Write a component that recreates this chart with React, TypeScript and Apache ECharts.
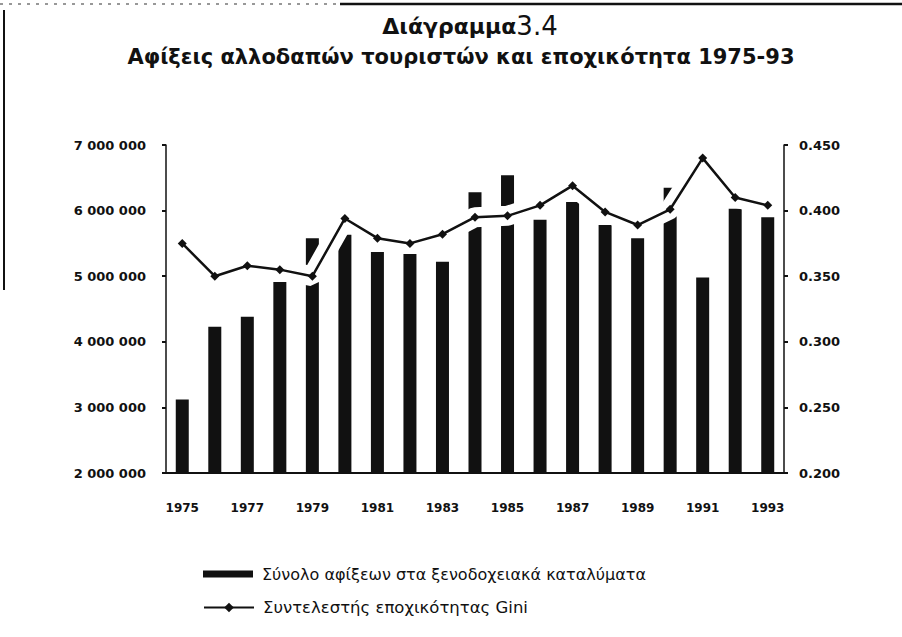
import React, { useEffect, useRef } from "react";
import * as echarts from "echarts";

const years = ["1975","1976","1977","1978","1979","1980","1981","1982","1983","1984","1985","1986","1987","1988","1989","1990","1991","1992","1993"];
const arrivals = [3120000, 4230000, 4380000, 4910000, 5580000, 5630000, 5370000, 5340000, 5220000, 6280000, 6540000, 5860000, 6130000, 5780000, 5580000, 6350000, 4980000, 6030000, 5900000];
const gini = [0.375, 0.350, 0.358, 0.355, 0.350, 0.394, 0.379, 0.375, 0.382, 0.395, 0.396, 0.404, 0.419, 0.399, 0.389, 0.401, 0.440, 0.410, 0.404];
const barName = "Σύνολο αφίξεων στα ξενοδοχειακά καταλύματα";
const lineName = "Συντελεστής εποχικότητας Gini";
const titleMain = "Διάγραμμα";
const titleNum = "3.4";
const subtitle = "Αφίξεις αλλοδαπών τουριστών και εποχικότητα 1975-93";

const INK = "#111";
const FONT = "DejaVu Sans";

export default function App() {
  const ref = useRef<HTMLDivElement>(null);
  useEffect(() => {
    if (!ref.current) return;
    const chart = echarts.init(ref.current, undefined, { renderer: "svg" });
    chart.setOption({
      animation: false,
      backgroundColor: "#fff",
      title: [
        {
          text: `{a|${titleMain}}{b|${titleNum}}`,
          left: 465, top: 8, textAlign: "center",
          textStyle: {
            rich: {
              a: { fontFamily: FONT, fontWeight: "bold", fontSize: 22, color: INK },
              b: { fontFamily: FONT, fontWeight: "normal", fontSize: 26, color: INK },
            },
          },
        },
        {
          text: subtitle,
          left: 456, top: 41, textAlign: "center",
          textStyle: { fontFamily: FONT, fontWeight: "bold", fontSize: 21, color: INK },
        },
      ],
      grid: { left: 166, right: 118, top: 145, bottom: 164, containLabel: false },
      legend: [
        {
          data: [{ name: barName, icon: "rect" }],
          left: 198, top: 561, itemWidth: 50, itemHeight: 7,
          textStyle: { fontFamily: FONT, fontSize: 16, color: INK, padding: [0, 0, 0, 4] },
        },
        {
          data: [{ name: lineName }],
          left: 198, top: 594, itemWidth: 50, itemHeight: 12,
          textStyle: { fontFamily: FONT, fontSize: 16.5, color: INK, padding: [0, 0, 0, 4] },
        },
      ],
      xAxis: {
        type: "category",
        data: years,
        axisLine: { lineStyle: { color: INK, width: 2 } },
        axisTick: { show: false },
        axisLabel: { interval: 1, margin: 29, fontFamily: FONT, fontWeight: "bold", fontSize: 12, color: INK },
      },
      yAxis: [
        {
          type: "value", min: 2000000, max: 7000000, interval: 1000000,
          axisLine: { show: true, lineStyle: { color: INK, width: 1.5 } },
          axisTick: { show: true, length: 4, lineStyle: { color: INK, width: 2 } },
          splitLine: { show: false },
          axisLabel: {
            margin: 20, fontFamily: FONT, fontWeight: "bold", fontSize: 13, color: INK,
            formatter: (v: number) => String(Math.round(v)).replace(/\B(?=(\d{3})+(?!\d))/g, " "),
          },
        },
        {
          type: "value", position: "right", min: 0.2, max: 0.45, interval: 0.05,
          axisLine: { show: true, lineStyle: { color: INK, width: 1.5 } },
          axisTick: { show: true, length: 4, lineStyle: { color: INK, width: 2 } },
          splitLine: { show: false },
          axisLabel: {
            margin: 15, fontFamily: FONT, fontWeight: "bold", fontSize: 13, color: INK,
            formatter: (v: number) => v.toFixed(3),
          },
        },
      ],
      series: [
        {
          name: barName, type: "bar", data: arrivals, barWidth: 13, z: 2,
          itemStyle: { color: INK },
        },
        {
          name: "halo", type: "line", yAxisIndex: 1, data: gini, z: 3,
          symbol: "none", silent: true,
          lineStyle: { color: "#fff", width: 20 },
        },
        {
          name: lineName, type: "line", yAxisIndex: 1, data: gini, z: 4,
          symbol: "diamond", symbolSize: 9,
          itemStyle: { color: INK },
          lineStyle: { color: INK, width: 2.5 },
        },
      ],
      graphic: [
        { type: "line", shape: { x1: 0, y1: 4, x2: 340, y2: 4 }, style: { stroke: "#777", lineWidth: 1.5, lineDash: [3, 6] } },
        { type: "line", shape: { x1: 340, y1: 4, x2: 902, y2: 4 }, style: { stroke: INK, lineWidth: 2.5 } },
        { type: "line", shape: { x1: 4, y1: 10, x2: 4, y2: 290 }, style: { stroke: INK, lineWidth: 2 } },
      ],
    });
    return () => chart.dispose();
  }, []);
  return <div ref={ref} style={{ position: "fixed", left: 0, top: 0, width: 902, height: 637 }} />;
}
